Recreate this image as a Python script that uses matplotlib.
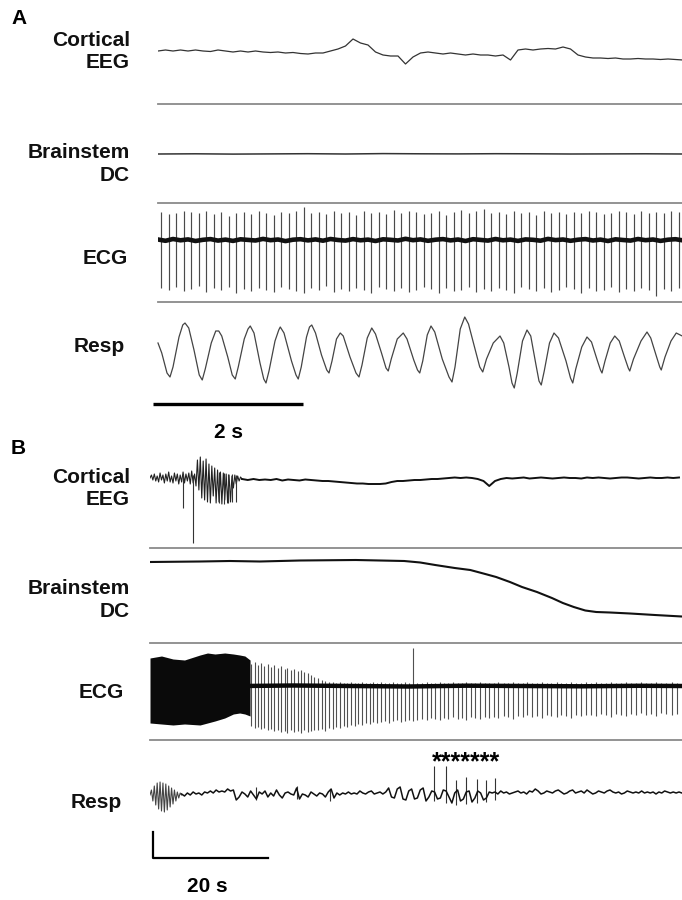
import numpy as np
import matplotlib
matplotlib.use("Agg")
import matplotlib.pyplot as plt

plt.rcParams['font.family'] = ['Liberation Sans', 'DejaVu Sans']

W, H = 682, 900

# ---------------- panel A (seconds, amplitude in arbitrary units) ----------------
eeg_a_t = np.arange(0, 7.01, 0.1)
eeg_a = [1, 2, 1, 2, 1, 2, 1, 0.5, 2, 1, 0, 1, 0, 1, 0, -0.5, 0, -1, -0.5, -1.5,
         -2, -1, -1, 1, 3, 6, 13, 9, 7, 0, -3, -4, -4, -12, -5, -1, 0, -1, -2, -1,
         -2, -3, -2, -3, -3, -4, -3, -8, 2, 3, 2, 3, 3.5, 3, 5, 3, -3, -5, -6, -6,
         -6.5, -6, -7, -7, -6.5, -7, -7, -7.5, -7, -7.5, -8]

dc_a_t = np.arange(0, 7.01, 0.5)
dc_a = [0, 0.2, -0.1, 0.1, 0.3, 0, 0.4, 0.2, 0.1, 0.3, 0.2, 0, 0.1, 0.2, 0]

ecg_a_t = [0.04, 0.14, 0.24, 0.34, 0.44, 0.54, 0.64, 0.74, 0.84, 0.94,
           1.04, 1.14, 1.24, 1.34, 1.44, 1.54, 1.64, 1.74, 1.84, 1.94,
           2.04, 2.14, 2.24, 2.34, 2.44, 2.54, 2.64, 2.74, 2.84, 2.94,
           3.04, 3.14, 3.24, 3.34, 3.44, 3.54, 3.64, 3.74, 3.84, 3.94,
           4.04, 4.14, 4.24, 4.34, 4.44, 4.54, 4.64, 4.74, 4.84, 4.94,
           5.04, 5.14, 5.24, 5.34, 5.44, 5.54, 5.64, 5.74, 5.84, 5.94,
           6.04, 6.14, 6.24, 6.34, 6.44, 6.54, 6.64, 6.74, 6.84, 6.94]
ecg_a_top = [28, 26, 27, 29, 28, 27, 29, 26, 28, 24, 27, 28, 26, 29, 27, 25, 28, 27, 29, 33,
             27, 28, 26, 29, 27, 28, 25, 29, 27, 28, 26, 30, 27, 29, 28, 26, 27, 29, 25, 28,
             30, 27, 29, 31, 27, 28, 26, 29, 27, 28, 25, 29, 27, 28, 26, 28, 27, 29, 28, 26,
             27, 29, 28, 26, 29, 27, 28, 27, 29, 28]
ecg_a_bot = [-48, -50, -47, -51, -49, -46, -52, -48, -50, -47, -53, -49, -51, -48, -50, -52, -47, -49, -51, -53,
             -48, -50, -46, -52, -49, -51, -48, -50, -53, -47, -49, -51, -48, -52, -50, -47, -49, -53, -48, -51,
             -50, -47, -52, -49, -51, -48, -50, -53, -47, -49, -51, -48, -52, -50, -47, -49, -53, -48, -51, -50,
             -47, -52, -49, -51, -48, -50, -56, -49, -51, -48]
ecg_a_base_t = np.arange(0, 7.01, 0.1)
ecg_a_base = [0.5, -0.8, 1.0, -0.3, 0.6, -1.0, 0.2, 0.9, -0.6, 0.4,
              -0.9, 0.7, 0.1, -0.5, 1.1, -0.2, 0.5, -1.1, 0.3, 0.8,
              -0.4, 0.6, -0.7, 1.0, 0.0, -0.6, 0.9, -0.3, 0.4, -1.0,
              0.7, 0.2, -0.5, 1.2, -0.2, 0.6, -0.8, 0.3, 0.9, -0.4,
              0.5, -1.0, 0.8, 0.1, -0.6, 1.0, -0.3, 0.4, -0.9, 0.6,
              0.2, -0.7, 1.1, -0.1, 0.5, -0.8, 0.3, 0.9, -0.5, 0.4,
              -1.0, 0.7, 0.0, -0.6, 1.0, -0.2, 0.5, -0.9, 0.3, 0.8, -0.4]

resp_a_t = [0.00, 0.05, 0.12, 0.16, 0.20, 0.28, 0.33, 0.36, 0.41, 0.48, 0.55, 0.59, 0.63, 0.71, 0.77, 0.81,
            0.85, 0.93, 0.99, 1.03, 1.07, 1.15, 1.20, 1.23, 1.28, 1.36, 1.41, 1.44, 1.48, 1.56, 1.61, 1.63,
            1.68, 1.78, 1.84, 1.87, 1.91, 1.98, 2.02, 2.05, 2.10, 2.18, 2.25, 2.28, 2.32, 2.38, 2.43, 2.47,
            2.56, 2.64, 2.68, 2.72, 2.79, 2.85, 2.90, 2.98, 3.04, 3.07, 3.11, 3.19, 3.27, 3.32, 3.41, 3.46,
            3.49, 3.53, 3.59, 3.64, 3.69, 3.79, 3.88, 3.92, 3.96, 4.03, 4.09, 4.14, 4.22, 4.29, 4.33, 4.38,
            4.47, 4.56, 4.61, 4.68, 4.72, 4.75, 4.79, 4.86, 4.92, 4.97, 5.04, 5.08, 5.11, 5.15, 5.22, 5.28,
            5.34, 5.44, 5.50, 5.53, 5.57, 5.65, 5.72, 5.78, 5.86, 5.90, 5.92, 5.96, 6.03, 6.09, 6.15, 6.22,
            6.27, 6.29, 6.34, 6.44, 6.52, 6.57, 6.64, 6.69, 6.71, 6.76, 6.84, 6.91, 6.99]
resp_a = [12, 2, -18, -22, -12, 18, 30, 32, 27, 5, -20, -25, -14, 12, 24, 24,
          19, -2, -20, -24, -12, 16, 26, 29, 22, -8, -24, -28, -16, 14, 25, 28,
          22, -6, -20, -24, -12, 18, 28, 30, 22, 0, -15, -18, -6, 16, 22, 19,
          -2, -18, -22, -10, 17, 27, 21, 2, -13, -16, -4, 16, 22, 16, -5, -15,
          -18, -6, 20, 29, 23, -4, -22, -27, -12, 26, 38, 31, 8, -12, -17, -4,
          12, 19, 12, -12, -28, -33, -18, 14, 25, 19, -10, -26, -30, -16, 12, 22,
          17, -6, -23, -28, -14, 8, 18, 13, -6, -15, -18, -6, 12, 19, 14, -2,
          -13, -16, -4, 14, 23, 17, 0, -12, -15, -2, 14, 22, 19]

# ---------------- panel B ----------------
eeg_b_burst_t = np.arange(0, 16.01, 0.25)
eeg_b_burst = [0, 3, -2, 4, -3, 2, -4, 5, -2, 3, -5, 4, -3, 6, -4, 2,
               -5, 5, -3, 4, -6, 3, -4, 6, -5, 4, -3, 5, -6, 7, -5, 4,
               -8, 18, -12, 21, -20, 17, -22, 19, -24, 14, -25, 12, -18, 10, -25, 8,
               -24, 6, -26, 5, -22, 4, -25, 3, -24, 2, -10, 3, -6, 2, -3, 1,
               -1]
eeg_b_t = np.arange(16, 93, 1.0)
eeg_b = [-1,
         -2, -1, -2, -1.5, -2, -1, -2.5, -1.5, -2, -2.5, -1.5, -2, -2.5, -3,
         -3, -3.5, -4, -4.5, -5, -5.5, -5.5, -6, -6, -6, -5.5, -4, -3, -3, -2.5, -2, -2,
         -1.5, -1, -1, -0.5, 0, 0.5, 0, 0.5, 0, -1, -3, -8, -3, -1,
         0, -0.5, 0, 0.5, -0.5, 0, 0.5, 0, -0.5, 0, 0.5, 0, 0, -0.5, 0.5, 0,
         0.5, 0, -0.5, 0, 0.5, 0.5, 0, -0.5, 0, 0.5, 0, 0, 0.5, 0, 0.5]
eeg_b_spk_t = [5.7, 7.5, 12.0, 12.8, 13.5, 14.2, 15.0]
eeg_b_spk_top = [4, 3, 6, 5, 4, 4, 3]
eeg_b_spk_bot = [-30, -65, -25, -26, -25, -24, -24]

dc_b_t = [0, 8.7, 13.9, 19.1, 26.1, 35.8, 40, 44.2, 47, 49.6, 53, 55.7, 58.3, 60.2, 62.6,
          64.7, 67.3, 69.9, 71.8, 73.7, 75.7, 77.6, 80, 83.5, 87.8, 92.5]
dc_b = [34, 34.5, 35, 34.5, 35.5, 36, 35.5, 35, 33.5, 31, 28, 26, 22, 19, 14,
        9, 4, -2, -7, -11, -14.5, -16, -16.5, -17.5, -19, -20.5]

ecg_b_env_t = [0, 2, 4, 6, 8.7, 10, 11.3, 13, 14.5, 15.6, 16.5, 17.4]
ecg_b_env_top = [28, 30, 27, 26, 31, 33, 32, 33, 32, 31, 30, 26]
ecg_b_env_bot = [-37, -38, -39, -38, -39, -37, -35, -32, -28, -27, -28, -30]
ecg_b_t = [17.6, 18.2, 18.8, 19.3, 19.9, 20.5, 21.1, 21.6, 22.2, 22.8, 23.4, 23.9, 24.5, 25.1, 25.7,
           26.3, 26.8, 27.4, 28.0, 28.6,
           29.2, 29.9, 30.5, 31.1, 31.8, 32.4, 33.0, 33.7, 34.3, 34.9, 35.6, 36.2, 36.9, 37.5, 38.2, 38.8,
           39.5, 40.2, 40.9, 41.6, 42.3, 43.0, 43.7, 44.4, 45.1, 45.8, 46.5,
           47.3, 48.1, 48.8, 49.6, 50.4, 51.2, 51.9, 52.7, 53.5, 54.3, 55.0, 55.8, 56.6, 57.4, 58.2, 59.0,
           59.8, 60.6, 61.5, 62.3, 63.1, 64.0, 64.8, 65.6, 66.5, 67.3, 68.2, 69.0, 69.8, 70.7, 71.5, 72.4,
           73.2, 74.1, 74.9, 75.8,
           76.7, 77.5, 78.4, 79.3, 80.1, 81.0, 81.9, 82.8, 83.6, 84.5, 85.4, 86.3, 87.1, 88.0, 88.9, 89.8,
           90.7, 91.6]
ecg_b_top = [22, 24, 21, 23, 20, 22, 19, 21, 18, 20, 17, 18, 16, 17, 15, 16, 14, 13, 11, 9,
             8, 6, 5, 4, 4, 3, 4, 3, 3, 4, 3, 3, 4, 3, 3, 4,
             3, 4, 3, 3, 4, 3, 3, 4, 3, 38, 3,
             3, 4, 3, 3, 4, 3, 3, 4, 3, 3, 4, 3, 3, 4, 3, 3,
             3, 4, 3, 3, 4, 3, 3, 4, 3, 3, 4, 3, 3, 4, 3, 3, 4, 3, 3, 4,
             3, 4, 3, 3, 4, 3, 3, 4, 3, 3, 4, 3, 3, 4, 3, 3, 4, 3]
ecg_b_bot = [-40, -42, -41, -43, -42, -44, -43, -45, -44, -46, -45, -47, -44, -46, -45, -47, -44, -46, -45, -44,
             -44, -43, -45, -42, -43, -41, -42, -40, -41, -39, -40, -38, -39, -37, -38, -36,
             -37, -36, -35, -37, -35, -34, -36, -35, -34, -35, -34,
             -33, -34, -32, -33, -34, -32, -33, -31, -33, -32, -34, -31, -32, -33, -31, -32,
             -31, -32, -30, -31, -33, -30, -31, -29, -31, -30, -32, -29, -30, -31, -29, -30, -32, -29, -30, -29,
             -29, -30, -28, -29, -31, -28, -29, -30, -28, -29, -27, -29, -28, -30, -27, -28, -29, -28]
ecg_b_base_t = [16, 25, 35, 45, 55, 65, 75, 85, 92.5]
ecg_b_base = [0, 0.5, 0, -0.5, 0.3, 0, -0.3, 0.2, 0]

resp_b_burst_t = np.arange(0, 5.51, 0.25)
resp_b_burst = [0, 5, -6, 9, -10, 12, -14, 13, -16, 12, -17, 11, -15, 9, -12, 7, -9, 5, -6, 3, -3, 2, 0]
resp_b_t = np.arange(5.5, 92.51, 0.5)
resp_b = [1, -1, 2, 0, 3, 1, 2, 0, 3, 2,
          4, 2, 5, 3, 4, 3, 6, 4, 5, -5,
          -2, 3, 1, -2, 4, 0, -4, 3, 1, 4,
          -2, 2, -1, 5, 0, -3, 2, 3, 1, 0,
          7, -4, 1, 0, -2, 3, 1, -1, 2, 1,
          -2, 3, 6, -3, 2, 0, 2, 1, 3, 1,
          2, 1, 4, 2, 1, 3, 4, 1, 2, 3,
          1, 3, 7, -2, -3, 6, 8, -4, -5, 4,
          6, -4, -3, 5, 7, -6, -2, 4, 3, -4,
          -3, 5, 4, -2, -8, 2, 5, -6, -4, 3,
          4, -7, -3, 4, 2, -5, -3, 3, 2, 3,
          1, 4, 2, 3, 1, 2, 3, 4, 2, 3,
          1, 4, 3, 6, 4, 1, 2, 4, 3, 2,
          4, 5, 3, 1, 2, 4, 5, 2, 3, 4,
          2, 5, 3, 1, 2, 4, 3, 2, 4, 5,
          3, 2, 3, 1, 2, 4, 3, 2, 3, 2,
          4, 2, 3, 2, 3, 1, 3, 2, 4, 3,
          2, 3, 2, 3, 2]
resp_b_spk_t = [18.4, 25.6, 31.3, 49.4, 51.5, 53.3, 55.0, 56.9, 58.4, 60.0]
resp_b_spk_top = [8, 9, 6, 29, 29, 15, 18, 16, 15, 17]
resp_b_spk_bot = [-5, -4, -6, -6, -8, -10, -9, -8, -7, -5]

fig = plt.figure(figsize=(W / 100, H / 100), dpi=100)
fig.patch.set_facecolor('white')


def trace_axes(x0, x1, y0, y1, yc, tmax, sep=True):
    # axes placed by pixel box, data y = offset from baseline row yc
    ax = fig.add_axes([x0 / W, 1 - y1 / H, (x1 - x0) / W, (y1 - y0) / H])
    ax.set_xlim(0, tmax)
    ax.set_ylim(-(y1 - yc), yc - y0)
    ax.set_xticks([])
    ax.set_yticks([])
    for s in ['top', 'left', 'right']:
        ax.spines[s].set_visible(False)
    if sep:
        ax.spines['bottom'].set_color('#8a8a8a')
        ax.spines['bottom'].set_linewidth(1.3)
    else:
        ax.spines['bottom'].set_visible(False)
    ax.patch.set_alpha(0)
    return ax


FS = 15


def label(txt, xr, yc, ls=1.2):
    fig.text(xr / W, 1 - yc / H, txt, ha='right', va='center', fontsize=FS,
             fontweight='bold', linespacing=ls, color='#111111')


TA = 524 / 75.0   # 2 s = 150 px
TB = 532 / 5.75   # 20 s = 115 px

# ---- A ----
ax = trace_axes(158, 682, 10, 104, 52, TA)
ax.plot(eeg_a_t, eeg_a, color='#333333', lw=0.9)

ax = trace_axes(158, 682, 104, 203, 154, TA)
ax.plot(dc_a_t, dc_a, color='#333333', lw=1.1)

ax = trace_axes(158, 682, 203, 302, 240, TA)
ax.vlines(ecg_a_t, ecg_a_bot, ecg_a_top, color='#4a4a4a', lw=0.85)
ax.plot(ecg_a_base_t, ecg_a_base, color='#111111', lw=3.3)

ax = trace_axes(150, 682, 302, 412, 355, 532 / 75.0, sep=False)
ax.set_xlim(-8 / 75.0, 524 / 75.0)
ax.plot(resp_a_t, resp_a, color='#444444', lw=0.9)
ax.plot([-5 / 75.0, -5 / 75.0 + 2], [-49, -49], color='black', lw=2.4,
        solid_capstyle='butt', clip_on=False)
ax.text(-5 / 75.0 + 1, -77, '2 s', ha='center', va='center', fontsize=FS,
        fontweight='bold', clip_on=False)

label('Cortical\nEEG', 130, 51)
label('Brainstem\nDC', 130, 164, ls=1.3)
label('ECG', 128, 258)
label('Resp', 125, 347)
fig.text(11 / W, 1 - 18 / H, 'A', ha='left', va='center', fontsize=FS, fontweight='bold')

# ---- B ----
ax = trace_axes(150, 682, 455, 548, 478, TB)
ax.plot(eeg_b_burst_t, eeg_b_burst, color='#222222', lw=0.8)
ax.vlines(eeg_b_spk_t, eeg_b_spk_bot, eeg_b_spk_top, color='#333333', lw=0.8)
ax.plot(eeg_b_t, eeg_b, color='#111111', lw=1.4)

ax = trace_axes(150, 682, 548, 643, 596, TB)
ax.plot(dc_b_t, dc_b, color='#111111', lw=1.5)

ax = trace_axes(150, 682, 643, 740, 686, TB)
ax.fill_between(ecg_b_env_t, ecg_b_env_bot, ecg_b_env_top, color='#0a0a0a', lw=0)
ax.vlines(ecg_b_t, ecg_b_bot, ecg_b_top, color='#505050', lw=0.8)
ax.plot(ecg_b_base_t, ecg_b_base, color='#0a0a0a', lw=3.2)

ax = trace_axes(150, 682, 740, 872, 795, TB, sep=False)
ax.plot(resp_b_burst_t, resp_b_burst, color='#444444', lw=0.8)
ax.vlines(resp_b_spk_t, resp_b_spk_bot, resp_b_spk_top, color='#333333', lw=0.8)
ax.plot(resp_b_t, resp_b, color='#111111', lw=1.1)
ax.text(55.0, 33, '*******', ha='center', va='center', fontsize=18, fontweight='bold')
x0 = 3 / 5.75
ax.plot([x0, x0, x0 + 20], [-37, -63, -63], color='black', lw=1.6, clip_on=False)
ax.text(x0 + 9.5, -92, '20 s', ha='center', va='center', fontsize=FS,
        fontweight='bold', clip_on=False)

label('Cortical\nEEG', 130, 488)
label('Brainstem\nDC', 130, 600, ls=1.3)
label('ECG', 124, 692)
label('Resp', 122, 803)
fig.text(11 / W, 1 - 448 / H, 'B', ha='left', va='center', fontsize=FS, fontweight='bold')

fig.savefig('out.png', dpi=100, facecolor='white')
